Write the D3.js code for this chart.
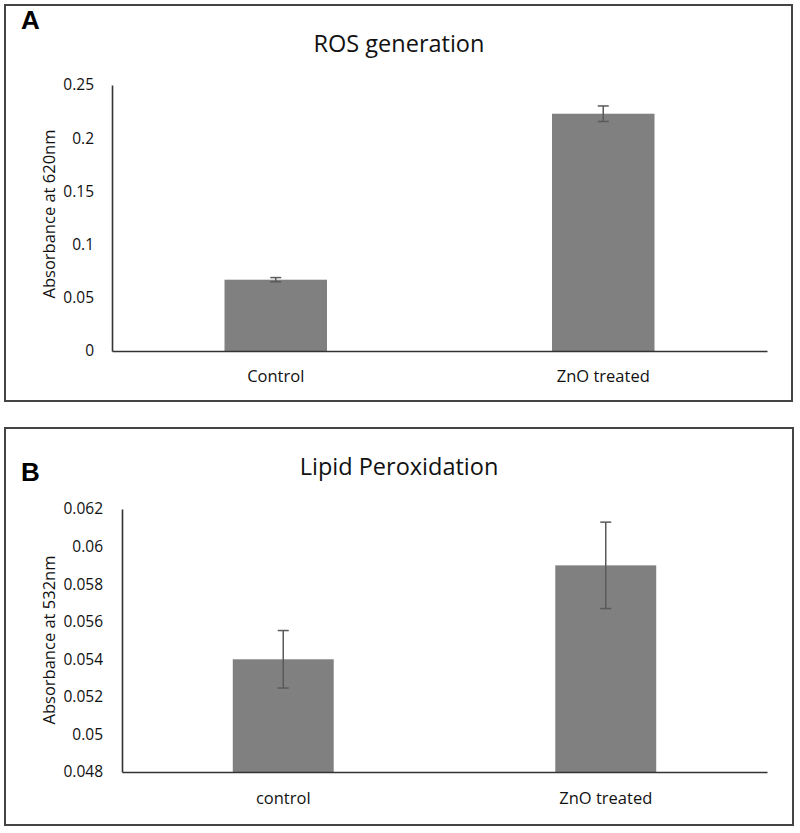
<!DOCTYPE html>
<html><head><meta charset="utf-8">
<script src="https://cdn.jsdelivr.net/npm/d3@7"></script>
<style>body{margin:0;background:#fff}svg{display:block}</style>
</head><body>
<svg id="c" width="800" height="833"></svg>
<script>
// Panel A data
const catsA = ["Control", "ZnO treated"];
const valsA = [0.067, 0.223];
const errA = [0.002, 0.0073];
const ticksA = [0, 0.05, 0.1, 0.15, 0.2, 0.25];
// Panel B data
const catsB = ["control", "ZnO treated"];
const valsB = [0.054, 0.059];
const errB = [0.00153, 0.0023];
const ticksB = [0.048, 0.05, 0.052, 0.054, 0.056, 0.058, 0.06, 0.062];

const svg = d3.select("#c");
const font = "'Open Sans', sans-serif";

function panel(cfg) {
  const g = svg.append("g");
  g.append("rect").attr("x", cfg.box[0]).attr("y", cfg.box[1])
    .attr("width", cfg.box[2] - cfg.box[0]).attr("height", cfg.box[3] - cfg.box[1])
    .attr("fill", "none").attr("stroke", "#444").attr("stroke-width", 2);
  g.append("text").attr("x", 21).attr("y", cfg.letterY).text(cfg.letter)
    .attr("font-family", "Arial, 'Liberation Sans', sans-serif").attr("font-weight", "bold")
    .attr("font-size", 26).attr("fill", "#000");
  g.append("text").attr("x", 399).attr("y", cfg.titleY).attr("text-anchor", "middle")
    .attr("font-family", font).attr("font-size", 23.5).attr("fill", "#111").text(cfg.title);

  const x = d3.scaleBand().domain(cfg.cats).range([cfg.x0, 767]).paddingInner(0.687).paddingOuter(0.3435);
  const y = d3.scaleLinear().domain(cfg.domain).range([cfg.yBottom, cfg.yTop]);

  // bars
  g.selectAll(".bar").data(cfg.vals).join("rect")
    .attr("x", (d, i) => x(cfg.cats[i])).attr("width", x.bandwidth())
    .attr("y", d => y(d)).attr("height", d => cfg.yBottom - y(d))
    .attr("fill", "#808080");
  // error bars
  const eg = g.append("g").attr("stroke", "#5a5a5a").attr("stroke-width", 1.5);
  cfg.vals.forEach((v, i) => {
    const cx = x(cfg.cats[i]) + x.bandwidth() / 2;
    const e = cfg.err[i];
    eg.append("line").attr("x1", cx).attr("x2", cx).attr("y1", y(v + e)).attr("y2", y(v - e));
    eg.append("line").attr("x1", cx - 5.5).attr("x2", cx + 5.5).attr("y1", y(v + e)).attr("y2", y(v + e));
    eg.append("line").attr("x1", cx - 5.5).attr("x2", cx + 5.5).attr("y1", y(v - e)).attr("y2", y(v - e));
  });

  // y axis
  const ya = g.append("g").attr("transform", `translate(${cfg.x0},0)`)
    .call(d3.axisLeft(y).tickValues(cfg.ticks).tickSize(0).tickPadding(cfg.pad).tickFormat(d => String(+d.toFixed(4))));
  ya.select(".domain").attr("stroke", "#333").attr("stroke-width", 1.6);
  ya.selectAll("text").attr("font-family", font).attr("font-size", 15.5).attr("fill", "#111");
  // x axis
  const xa = g.append("g").attr("transform", `translate(0,${cfg.yBottom})`)
    .call(d3.axisBottom(x).tickSize(0).tickPadding(cfg.xpad));
  xa.select(".domain").attr("stroke", "#333").attr("stroke-width", 1.6);
  xa.selectAll("text").attr("font-family", font).attr("font-size", 16.5).attr("fill", "#111");

  g.append("text").attr("transform", `translate(48,${cfg.labelY}) rotate(-90)`)
    .attr("text-anchor", "middle").attr("dominant-baseline", "central")
    .attr("font-family", font).attr("font-size", 16.5).attr("fill", "#111").text(cfg.ylabel);
}

panel({box: [5, 5, 792, 401], letter: "A", letterY: 29, title: "ROS generation", titleY: 52,
  cats: catsA, vals: valsA, err: errA, ticks: ticksA, domain: [0, 0.25],
  x0: 112, yTop: 85, yBottom: 351, pad: 18, xpad: 19, labelY: 214, ylabel: "Absorbance at 620nm"});

panel({box: [5, 428, 793, 825], letter: "B", letterY: 481, title: "Lipid Peroxidation", titleY: 475,
  cats: catsB, vals: valsB, err: errB, ticks: ticksB, domain: [0.048, 0.062],
  x0: 122, yTop: 509, yBottom: 772, pad: 19, xpad: 20, labelY: 640, ylabel: "Absorbance at 532nm"});
</script>
</body></html>
